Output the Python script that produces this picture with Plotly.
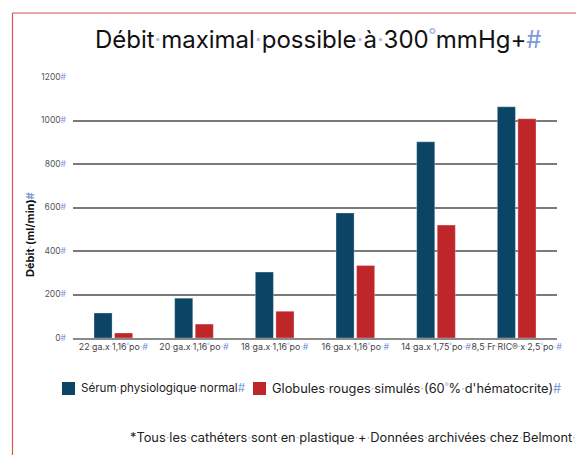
import plotly.graph_objects as go

# ---- data ----
categories = ["22 ga.x 1,16~po #", "20 ga.x 1,16~po #", "18 ga.x 1,16~po #",
              "16 ga.x 1,16~po #", "14 ga.x 1,75~po #", "8,5 Fr RIC® x 2,5~po #"]
serum = [115, 183, 303, 575, 902, 1063]
globules = [23, 64, 123, 333, 519, 1008]
series_names = ["Sérum physiologique normal#", "Globules rouges simulés (60~% d'hématocrite)#"]
y_ticks = [0, 200, 400, 600, 800, 1000, 1200]

BLUE = "#0b4566"
RED = "#be2629"
MARK = "#7d9bd6"
DOT = "#a9bce6"
FONT = "Inter"

W, H = 576, 455
L, R, T, B = 73, 557, 77, 338  # plot area in pixels


def fmt(s):
    """Render Word-style formatting marks: spaces as dots, ~ as nbsp mark, # as pilcrow mark."""
    out = ""
    for ch in s:
        if ch == " ":
            out += f"<span style='color:{DOT}'>·</span>"
        elif ch == "~":
            out += f"<span style='color:{DOT}'>˚</span>"
        elif ch == "#":
            out += f"<span style='color:{MARK}'>#</span>"
        else:
            out += ch
    return out


def px(x):
    return (x - L) / (R - L)


def py(y):
    return (B - y) / (B - T)


fig = go.Figure()
fig.add_trace(go.Bar(x=categories, y=serum, name=series_names[0], marker_color=BLUE,
                     marker_line=dict(color="rgba(255,255,255,0.5)", width=0.6)))
fig.add_trace(go.Bar(x=categories, y=globules, name=series_names[1], marker_color=RED,
                     marker_line=dict(color="rgba(255,255,255,0.5)", width=0.6)))

fig.update_layout(
    width=W, height=H,
    margin=dict(l=L, r=W - R, t=T, b=H - B, pad=0),
    paper_bgcolor="white", plot_bgcolor="white",
    barmode="group", bargap=0.49, bargroupgap=0.12,
    showlegend=False,
    font=dict(family=FONT, color="#333333"),
)
fig.update_xaxes(
    tickvals=categories, ticktext=[fmt(c) for c in categories],
    tickfont=dict(size=8.8, color="#444444"), tickangle=0,
    showline=True, linecolor="#8a8a8a", linewidth=1.5,
    ticks="", showgrid=False, range=[-0.5, 5.5],
)
fig.update_yaxes(
    range=[0, 1200], tickvals=y_ticks, ticktext=[fmt(f"{v}#") for v in y_ticks],
    tickfont=dict(size=8.5, color="#555555"),
    showgrid=True, gridcolor="#7a7a7a", gridwidth=1.5,
    zeroline=False, ticks="", ticklabelstandoff=6,
)

annotations = [
    dict(text=fmt("Débit maximal possible à 300~mmHg+#"), x=px(93), y=py(40),
         xanchor="left", yanchor="middle", font=dict(size=24, color="#111111", family=FONT)),
    dict(text="<b>" + fmt("Débit (ml/min)#") + "</b>", x=px(30), y=py(235), textangle=-90,
         xanchor="center", yanchor="middle", font=dict(size=11, color="#111111", family=FONT)),
    dict(text=fmt(series_names[0]), x=px(79), y=py(388),
         xanchor="left", yanchor="middle", font=dict(size=11.6, color="#222222", family=FONT)),
    dict(text=fmt(series_names[1]), x=px(270), y=py(388),
         xanchor="left", yanchor="middle", font=dict(size=12.8, color="#222222", family=FONT)),
    dict(text=fmt("*Tous les cathéters sont en plastique + Données archivées chez Belmont "),
         x=px(128), y=py(437), xanchor="left", yanchor="middle",
         font=dict(size=12.8, color="#222222", family=FONT)),
]
for a in annotations:
    a.update(xref="paper", yref="paper", showarrow=False)
fig.update_layout(annotations=annotations)

shapes = [
    # legend swatches
    dict(type="rect", x0=px(62), x1=px(75), y0=py(382), y1=py(395), fillcolor=BLUE, line_width=0),
    dict(type="rect", x0=px(253), x1=px(266), y0=py(382), y1=py(395), fillcolor=RED, line_width=0),
    # red page frame
    dict(type="line", x0=px(12.5), x1=px(12.5), y0=py(13), y1=py(460), line=dict(color="#d9534f", width=1.2)),
    dict(type="line", x0=px(12.5), x1=px(580), y0=py(13), y1=py(13), line=dict(color="#d9534f", width=1.2)),
]
for s in shapes:
    s.update(xref="paper", yref="paper")
fig.update_layout(shapes=shapes)

fig.write_html("out.html")
